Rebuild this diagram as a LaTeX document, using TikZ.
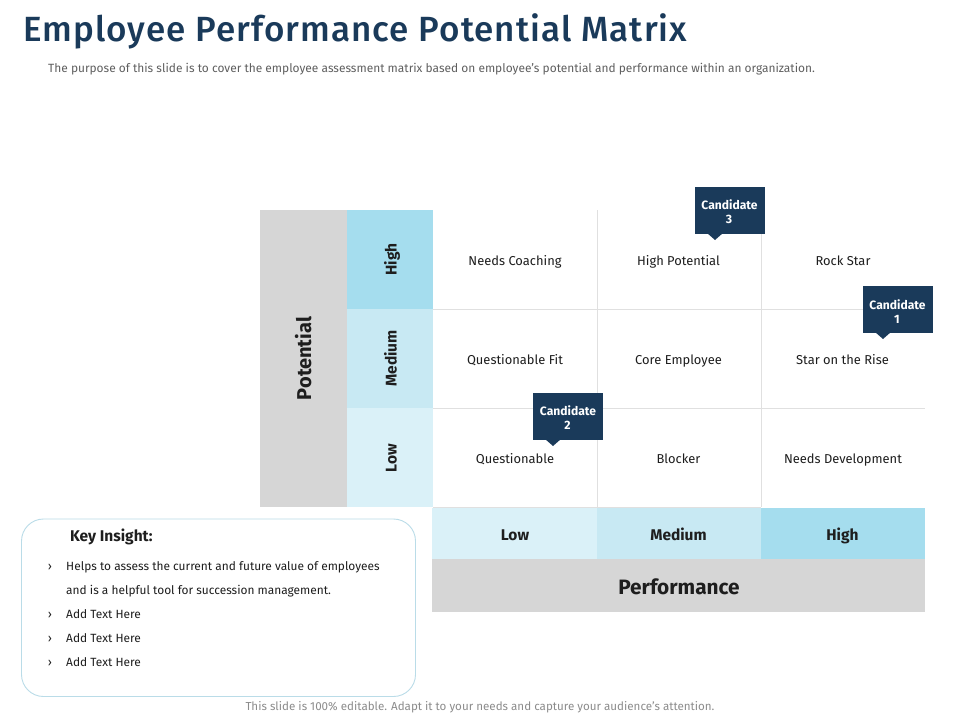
\documentclass[tikz,border=0pt]{standalone}
\usepackage{fontspec}
\setmainfont{Fira Sans}
\newfontfamily\medf{Fira Sans Medium}
\definecolor{navy}{HTML}{1A3A5A}
\definecolor{ink}{HTML}{1E1E1E}
\definecolor{greybar}{HTML}{D6D6D6}
\definecolor{hi}{HTML}{A5DDEE}
\definecolor{mid}{HTML}{C8E9F3}
\definecolor{lo}{HTML}{DAF1F8}
\definecolor{rule}{HTML}{E0E0E0}
\definecolor{keyline}{HTML}{BADCE8}
\definecolor{subgrey}{HTML}{5F5F5F}
\definecolor{footgrey}{HTML}{8C8C8C}
\newcommand{\fz}[1]{\fontsize{#1}{#1}\selectfont}
\tikzset{
  x=1pt,y=-1pt,
  barbox/.style={fill=greybar,draw=none,inner sep=0},
  hibox/.style={fill=hi,draw=none,inner sep=0},
  midbox/.style={fill=mid,draw=none,inner sep=0},
  lobox/.style={fill=lo,draw=none,inner sep=0},
  barlabel/.style={anchor=base,inner sep=0,text=ink,font=\fz{20.8}\bfseries},
  levlabel/.style={anchor=base,inner sep=0,text=ink,font=\fz{15.5}\bfseries},
  cell/.style={anchor=base,text=ink,inner sep=0,font=\fz{12.9}},
  cand/.style={fill=navy,inner sep=0,minimum width=70pt,minimum height=47pt},
  candtext/.style={anchor=base,text=white,inner sep=0,font=\fz{12.1}\bfseries},
  tip/.style={fill=navy,draw=none},
  gridline/.style={draw=rule,line width=0.8pt},
  keytext/.style={anchor=base west,inner sep=0,text=ink,font=\fz{11.9}},
  chev/.style={anchor=base,inner sep=0,text=ink,font=\fz{12}},
}
\begin{document}
\begin{tikzpicture}
\useasboundingbox (0,0) rectangle (960,720);
\fill[white] (0,0) rectangle (960,720);
\node[anchor=base west,inner sep=0,text=navy,font=\medf\fz{35}] (title) at (23,41.5) {\addfontfeature{LetterSpace=3}Employee Performance Potential Matrix};
\node[anchor=base west,inner sep=0,text=subgrey,font=\fz{11.93}] (sub) at (48,72) {The purpose of this slide is to cover the employee assessment matrix based on employee's potential and performance within an organization.};
% grid
\coordinate (v0t) at (432.5,210); \coordinate (v0b) at (432.5,507);
\coordinate (v1t) at (597,210); \coordinate (v1b) at (597,507);
\coordinate (v2t) at (761,210); \coordinate (v2b) at (761,507);
\coordinate (h1l) at (433,309); \coordinate (h1r) at (925,309);
\coordinate (h2l) at (433,408); \coordinate (h2r) at (925,408);
\coordinate (h3l) at (433,507); \coordinate (h3r) at (761,507);
\draw[gridline] (v0t)--(v0b) (v1t)--(v1b) (v2t)--(v2b) (h1l)--(h1r) (h2l)--(h2r) (h3l)--(h3r);
% left bars
\node[barbox,minimum width=87pt,minimum height=297pt] (pot) at (303.5,358.5) {};
\node[hibox,minimum width=85.5pt,minimum height=99pt] (phi) at (389.75,259.5) {};
\node[midbox,minimum width=85.5pt,minimum height=99pt] (pmid) at (389.75,358.5) {};
\node[lobox,minimum width=85.5pt,minimum height=99pt] (plo) at (389.75,457.5) {};
\node[barlabel,font=\fz{20}\bfseries,rotate=90] (potl) at (311,358.5) {Potential};
\node[levlabel,rotate=90] (phil) at (396.5,259.5) {High};
\node[levlabel,rotate=90] (pmidl) at (396.5,358.5) {Medium};
\node[levlabel,rotate=90] (plol) at (396.5,458) {Low};
% bottom bars
\node[lobox,minimum width=165pt,minimum height=51.5pt] (blo) at (514.5,533.5) {};
\node[midbox,minimum width=164pt,minimum height=51.5pt] (bmid) at (679,533.5) {};
\node[hibox,minimum width=164pt,minimum height=51.5pt] (bhi) at (843,533.5) {};
\node[barbox,minimum width=493pt,minimum height=53pt] (perf) at (678.5,585.5) {};
\node[levlabel] (blol) at (515,540) {Low};
\node[levlabel] (bmidl) at (678.5,540) {Medium};
\node[levlabel] (bhil) at (842.5,540) {High};
\node[barlabel] (perfl) at (679,594) {Performance};
% cells
\node[cell] (c11) at (515,265.5) {Needs Coaching};
\node[cell] (c12) at (678.5,265.5) {High Potential};
\node[cell] (c13) at (843,265.5) {Rock Star};
\node[cell] (c21) at (515,364.5) {Questionable Fit};
\node[cell] (c22) at (678.5,364.5) {Core Employee};
\node[cell] (c23) at (842.5,364.5) {Star on the Rise};
\node[cell] (c31) at (515,463.5) {Questionable};
\node[cell] (c32) at (678.5,463.5) {Blocker};
\node[cell] (c33) at (843,463.5) {Needs Development};
% candidates
\fill[tip] (707,233) -- (723,233) -- (715,240) -- cycle;
\node[cand] (k3) at (730,210.5) {};
\node[candtext] (k3a) at (729.5,209) {Candidate};
\node[candtext] (k3b) at (729,223) {3};
\fill[tip] (875,332) -- (891,332) -- (883,339) -- cycle;
\node[cand] (k1) at (898,309.5) {};
\node[candtext] (k1a) at (897.5,309) {Candidate};
\node[candtext] (k1b) at (897,323) {1};
\fill[tip] (545,439) -- (561,439) -- (553,446) -- cycle;
\node[cand] (k2) at (568,416.5) {};
\node[candtext] (k2a) at (568,415) {Candidate};
\node[candtext] (k2b) at (567.5,429) {2};
% key insight
\draw[keyline,line width=0.9pt,rounded corners=22pt] (21.5,519) rectangle (415.5,696.5);
\node[anchor=base west,inner sep=0,text=ink,font=\fz{15.5}\bfseries] (kh) at (70,541.5) {Key Insight:};
\node[chev] (b1) at (50,570) {›};
\node[keytext] (t1) at (66,570) {Helps to assess the current and future value of employees};
\node[keytext] (t1b) at (66,594) {and is a helpful tool for succession management.};
\node[chev] (b2) at (50,618) {›};
\node[keytext] (t2) at (66,618) {Add Text Here};
\node[chev] (b3) at (50,642) {›};
\node[keytext] (t3) at (66,642) {Add Text Here};
\node[chev] (b4) at (50,666) {›};
\node[keytext] (t4) at (66,666) {Add Text Here};
\node[anchor=base,inner sep=0,text=footgrey,font=\fz{11.6}] (foot) at (480,710) {This slide is 100\% editable. Adapt it to your needs and capture your audience's attention.};
\end{tikzpicture}
\end{document}
